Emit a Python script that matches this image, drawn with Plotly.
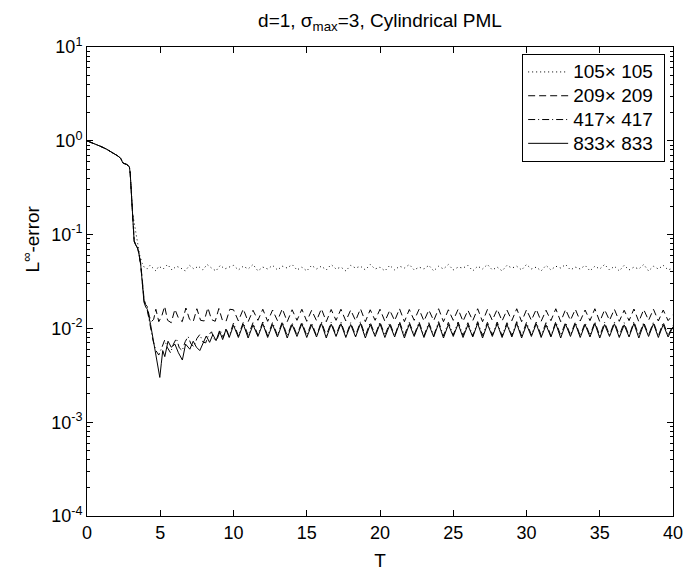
import plotly.graph_objects as go

# ---------------- data ----------------
series_names = ["105\u00d7 105", "209\u00d7 209", "417\u00d7 417", "833\u00d7 833"]

T_common = [0, 0.4, 0.87, 1.3, 1.77, 2.1, 2.3, 2.35, 2.45, 2.7, 2.89, 2.95, 3.0, 3.06, 3.11]
V_common = [1.0, 0.95, 0.88, 0.82, 0.75, 0.69, 0.65, 0.62, 0.58, 0.56, 0.53, 0.45, 0.34, 0.24, 0.17]

# early (transient) parts
T_early_105 = [3.2, 3.29, 3.4, 3.5, 3.6, 3.75, 3.9, 4.1, 4.3, 4.5, 4.7, 4.9, 5.2, 5.5, 5.8, 6.1,
               6.4, 6.7, 7.0, 7.3, 7.6, 7.9, 8.2, 8.5, 8.8, 9.1, 9.4, 9.7]
V_early_105 = [0.14, 0.115, 0.095, 0.08, 0.06, 0.05, 0.045, 0.043, 0.047, 0.044, 0.041, 0.046,
               0.043, 0.048, 0.042, 0.046, 0.044, 0.041, 0.047, 0.043, 0.046, 0.042, 0.048, 0.044,
               0.041, 0.047, 0.043, 0.045]

T_early_209 = [3.17, 3.22, 3.33, 3.45, 3.55, 3.67, 3.78, 3.89, 4.0, 4.12, 4.25, 4.4, 4.55, 4.7,
               4.9, 5.1, 5.3, 5.5, 5.75, 6.0, 6.25, 6.5, 6.75, 7.0, 7.25, 7.5, 7.75, 8.0, 8.25,
               8.5, 8.75, 9.0, 9.25, 9.5, 9.75]
V_early_209 = [0.11, 0.086, 0.078, 0.072, 0.063, 0.048, 0.032, 0.021, 0.018, 0.017, 0.0135,
               0.0118, 0.0125, 0.016, 0.0118, 0.0135, 0.0172, 0.0122, 0.0115, 0.016, 0.0128,
               0.0118, 0.0165, 0.0125, 0.0118, 0.0162, 0.0122, 0.0120, 0.0166, 0.0124, 0.0119,
               0.0163, 0.0121, 0.0120, 0.0160]

T_early_417 = [3.17, 3.22, 3.33, 3.45, 3.55, 3.67, 3.78, 3.89, 4.0, 4.12, 4.3, 4.5, 4.7, 4.9,
               5.1, 5.3, 5.5, 5.7, 5.9, 6.1, 6.3, 6.5, 6.7, 6.9, 7.1, 7.3, 7.5, 7.7, 7.9, 8.1,
               8.3, 8.5, 8.7, 8.9, 9.1, 9.3, 9.5, 9.7]
V_early_417 = [0.11, 0.085, 0.078, 0.072, 0.062, 0.047, 0.03, 0.02, 0.017, 0.0155, 0.011,
               0.0075, 0.0058, 0.0052, 0.0062, 0.0075, 0.0062, 0.0055, 0.0068, 0.0078, 0.0062,
               0.0058, 0.0072, 0.0082, 0.0068, 0.0064, 0.0078, 0.0086, 0.0072, 0.0070, 0.0085,
               0.0092, 0.0076, 0.0078, 0.0095, 0.0080, 0.0100, 0.0082]

T_early_833 = [3.17, 3.22, 3.33, 3.45, 3.55, 3.67, 3.78, 3.89, 4.0, 4.12, 4.34, 4.5, 4.63, 4.8,
               4.97, 5.07, 5.17, 5.31, 5.53, 5.75, 6.0, 6.24, 6.51, 6.73, 7.02, 7.25, 7.47, 7.7,
               7.92, 8.14, 8.37, 8.59, 8.81, 9.04, 9.26, 9.49, 9.71]
V_early_833 = [0.11, 0.084, 0.077, 0.072, 0.062, 0.047, 0.03, 0.019, 0.017, 0.016, 0.011,
               0.008, 0.0058, 0.0042, 0.0030, 0.0042, 0.0058, 0.0050, 0.0073, 0.0063, 0.0068,
               0.0055, 0.0046, 0.0068, 0.0060, 0.0073, 0.0063, 0.0058, 0.0068, 0.0083, 0.0071,
               0.0086, 0.0074, 0.0094, 0.0076, 0.0098, 0.0080]

# steady oscillating part, T = 10 ... 40
T_osc = [10.0, 10.333, 10.667, 11.0, 11.333, 11.667, 12.0, 12.333, 12.667, 13.0,
         13.333, 13.667, 14.0, 14.333, 14.667, 15.0, 15.333, 15.667, 16.0, 16.333,
         16.667, 17.0, 17.333, 17.667, 18.0, 18.333, 18.667, 19.0, 19.333, 19.667,
         20.0, 20.333, 20.667, 21.0, 21.333, 21.667, 22.0, 22.333, 22.667, 23.0,
         23.333, 23.667, 24.0, 24.333, 24.667, 25.0, 25.333, 25.667, 26.0, 26.333,
         26.667, 27.0, 27.333, 27.667, 28.0, 28.333, 28.667, 29.0, 29.333, 29.667,
         30.0, 30.333, 30.667, 31.0, 31.333, 31.667, 32.0, 32.333, 32.667, 33.0,
         33.333, 33.667, 34.0, 34.333, 34.667, 35.0, 35.333, 35.667, 36.0, 36.333,
         36.667, 37.0, 37.333, 37.667, 38.0, 38.333, 38.667, 39.0, 39.333, 39.667,
         40.0]

V_osc_105 = [0.047, 0.042, 0.046, 0.043, 0.048, 0.041, 0.045, 0.043, 0.047, 0.042,
             0.046, 0.044, 0.048, 0.042, 0.045, 0.041, 0.047, 0.043, 0.046, 0.042,
             0.048, 0.043, 0.045, 0.041, 0.047, 0.044, 0.046, 0.042, 0.048, 0.043,
             0.045, 0.041, 0.047, 0.042, 0.046, 0.044, 0.048, 0.042, 0.045, 0.043,
             0.047, 0.041, 0.046, 0.043, 0.048, 0.042, 0.045, 0.044, 0.047, 0.041,
             0.046, 0.043, 0.048, 0.042, 0.045, 0.041, 0.047, 0.044, 0.046, 0.042,
             0.048, 0.043, 0.045, 0.041, 0.047, 0.042, 0.046, 0.044, 0.048, 0.042,
             0.045, 0.043, 0.047, 0.041, 0.046, 0.043, 0.048, 0.042, 0.046, 0.041,
             0.047, 0.042, 0.045, 0.043, 0.048, 0.041, 0.046, 0.043, 0.047, 0.042,
             0.044]

V_osc_209 = [0.0158, 0.0120, 0.0161, 0.0118, 0.0156, 0.0122, 0.0160, 0.0119, 0.0157, 0.0121,
             0.0162, 0.0118, 0.0158, 0.0122, 0.0160, 0.0119, 0.0156, 0.0121, 0.0162, 0.0118,
             0.0159, 0.0122, 0.0160, 0.0120, 0.0157, 0.0121, 0.0162, 0.0118, 0.0158, 0.0122,
             0.0160, 0.0119, 0.0156, 0.0121, 0.0162, 0.0118, 0.0159, 0.0122, 0.0160, 0.0120,
             0.0157, 0.0121, 0.0162, 0.0118, 0.0158, 0.0122, 0.0160, 0.0119, 0.0156, 0.0121,
             0.0162, 0.0118, 0.0159, 0.0122, 0.0160, 0.0120, 0.0157, 0.0121, 0.0162, 0.0118,
             0.0158, 0.0122, 0.0160, 0.0119, 0.0156, 0.0121, 0.0162, 0.0118, 0.0159, 0.0122,
             0.0160, 0.0120, 0.0157, 0.0121, 0.0162, 0.0118, 0.0158, 0.0122, 0.0160, 0.0119,
             0.0156, 0.0121, 0.0161, 0.0118, 0.0159, 0.0122, 0.0160, 0.0120, 0.0157, 0.0121,
             0.0140]

V_osc_417 = [0.0114, 0.0083, 0.0116, 0.0084, 0.0115, 0.0085, 0.0117, 0.0083, 0.0116, 0.0084,
             0.0118, 0.0083, 0.0115, 0.0085, 0.0117, 0.0084, 0.0115, 0.0083, 0.0118, 0.0084,
             0.0116, 0.0085, 0.0117, 0.0083, 0.0115, 0.0084, 0.0118, 0.0083, 0.0116, 0.0085,
             0.0117, 0.0084, 0.0115, 0.0083, 0.0118, 0.0084, 0.0116, 0.0085, 0.0117, 0.0083,
             0.0115, 0.0084, 0.0118, 0.0083, 0.0116, 0.0085, 0.0117, 0.0084, 0.0115, 0.0083,
             0.0118, 0.0084, 0.0116, 0.0085, 0.0117, 0.0083, 0.0115, 0.0084, 0.0118, 0.0083,
             0.0116, 0.0085, 0.0117, 0.0084, 0.0115, 0.0083, 0.0118, 0.0084, 0.0116, 0.0085,
             0.0117, 0.0083, 0.0115, 0.0084, 0.0118, 0.0083, 0.0116, 0.0085, 0.0117, 0.0084,
             0.0115, 0.0083, 0.0118, 0.0084, 0.0116, 0.0085, 0.0117, 0.0083, 0.0116, 0.0084,
             0.0108]

V_osc_833 = [0.0108, 0.0080, 0.0111, 0.0079, 0.0109, 0.0082, 0.0112, 0.0080, 0.0110, 0.0081,
             0.0113, 0.0079, 0.0110, 0.0082, 0.0112, 0.0080, 0.0109, 0.0081, 0.0113, 0.0079,
             0.0111, 0.0082, 0.0112, 0.0080, 0.0110, 0.0081, 0.0113, 0.0079, 0.0110, 0.0082,
             0.0112, 0.0080, 0.0109, 0.0081, 0.0113, 0.0079, 0.0111, 0.0082, 0.0112, 0.0080,
             0.0110, 0.0081, 0.0113, 0.0079, 0.0110, 0.0082, 0.0112, 0.0080, 0.0109, 0.0081,
             0.0113, 0.0079, 0.0111, 0.0082, 0.0112, 0.0080, 0.0110, 0.0081, 0.0113, 0.0079,
             0.0110, 0.0082, 0.0112, 0.0080, 0.0109, 0.0081, 0.0113, 0.0079, 0.0111, 0.0082,
             0.0112, 0.0080, 0.0110, 0.0081, 0.0113, 0.0079, 0.0110, 0.0082, 0.0112, 0.0080,
             0.0109, 0.0081, 0.0113, 0.0079, 0.0111, 0.0082, 0.0112, 0.0080, 0.0110, 0.0081,
             0.0104]

x_ticks = [0, 5, 10, 15, 20, 25, 30, 35, 40]
y_ticks = [1e-4, 1e-3, 1e-2, 1e-1, 1e0, 1e1]
y_ticktext = ["10<sup>-4</sup>", "10<sup>-3</sup>", "10<sup>-2</sup>", "10<sup>-1</sup>",
              "10<sup>0</sup>", "10<sup>1</sup>"]

# ---------------- figure ----------------
FONT = "Liberation Sans, Arial, sans-serif"
fig = go.Figure()

parts = [
    (T_early_105, V_early_105, V_osc_105, "1px,3px"),
    (T_early_209, V_early_209, V_osc_209, "7px,4px"),
    (T_early_417, V_early_417, V_osc_417, "7px,3px,1px,3px"),
    (T_early_833, V_early_833, V_osc_833, "solid"),
]
for name, (te, ve, vo, dash) in zip(series_names, parts):
    fig.add_trace(go.Scatter(
        x=T_common + te + T_osc,
        y=V_common + ve + vo,
        mode="lines",
        name="<span style='font-size:19px'>" + name + "&nbsp;</span>",
        line=dict(color="black", width=1, dash=dash),
    ))

minor_y = [m * 10.0 ** e for e in range(-4, 1) for m in range(2, 10)]

fig.update_layout(
    width=695, height=580,
    margin=dict(l=87, r=12, t=47, b=60),
    paper_bgcolor="white", plot_bgcolor="white",
    font=dict(family=FONT, color="black", size=18),
    title=dict(text="d=1, \u03c3<sub>max</sub>=3, Cylindrical PML",
               x=0.5, xref="paper", xanchor="center",
               y=1 - 20 / 580, yanchor="middle",
               font=dict(size=19, family=FONT, color="black")),
    showlegend=True,
    legend=dict(x=0.9866, xanchor="right", y=0.985, yanchor="top",
                bgcolor="white", bordercolor="black", borderwidth=1,
                font=dict(size=16, family=FONT, color="black"),
                itemwidth=40, tracegroupgap=0),
    xaxis=dict(range=[0, 40], tickvals=x_ticks, ticks="inside", ticklen=6,
               tickcolor="black", showline=True, linecolor="black", linewidth=1,
               mirror="ticks", showgrid=False, zeroline=False,
               title=dict(text="T", font=dict(size=19, family=FONT), standoff=12),
               tickfont=dict(size=18, family=FONT)),
    yaxis=dict(type="log", range=[-4, 1], tickmode="array", tickvals=y_ticks,
               ticktext=y_ticktext, ticks="inside", ticklen=6, tickcolor="black",
               showline=True, linecolor="black", linewidth=1, mirror="ticks",
               showgrid=False, zeroline=False,
               minor=dict(tickmode="array", tickvals=minor_y, ticks="inside",
                          ticklen=3, tickcolor="black", showgrid=False),
               tickfont=dict(size=18, family=FONT)),
    annotations=[dict(text="L<sup>\u221e</sup>-error", textangle=-90,
                      xref="paper", x=-0.095, xanchor="center",
                      yref="y", y=-1.05, yanchor="middle",
                      showarrow=False, font=dict(size=19, family=FONT, color="black"))],
)

fig.write_html("out.html")
